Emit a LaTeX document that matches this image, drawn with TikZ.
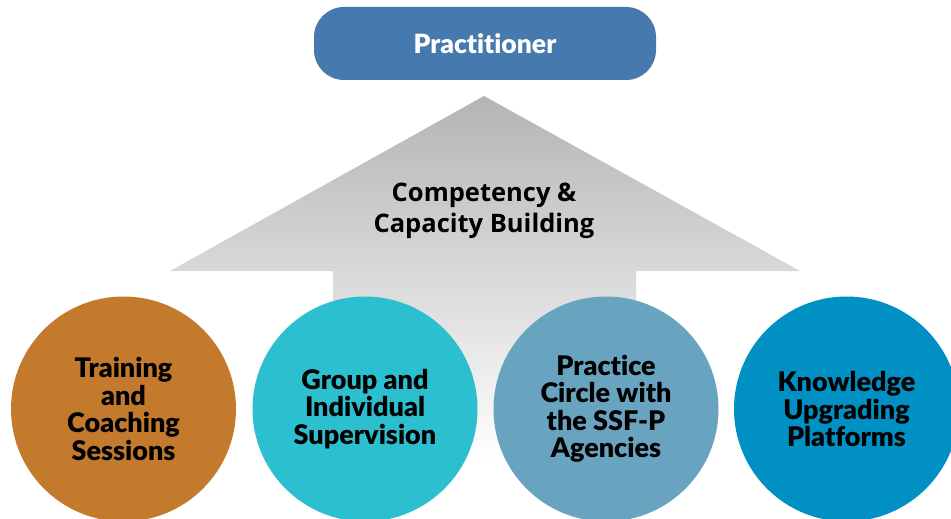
\documentclass[tikz,border=0pt]{standalone}
\usepackage{fontspec}
\setmainfont{Lato}[Ligatures=NoCommon]
\newfontfamily\heavyfont{Lato Black}[Ligatures=NoCommon]
\newfontfamily\labelfont{Open Sans}
\begin{document}
\begin{tikzpicture}[x=1pt,y=-1pt,
  topbox/.style={draw=none,fill={rgb,255:red,70;green,121;blue,174},rounded corners=30pt,minimum width=342pt,minimum height=73pt,font=\heavyfont\fontsize{26.5}{30}\selectfont,text=white},
  bubble/.style={circle,draw=none,minimum size=225pt,inner sep=0pt,align=center,font=\heavyfont\fontsize{27}{27.5}\selectfont,text=black},
  arrowlabel/.style={align=center,font=\labelfont\bfseries\fontsize{25.5}{31}\selectfont,text=black}]
\useasboundingbox (0,0) rectangle (951,519);
\fill[white] (0,0) rectangle (951,519);
\node[topbox] (prac) at (485,43.5) {Practitioner};
\shade[top color={rgb,255:red,180;green,180;blue,180},bottom color=white,middle color={rgb,255:red,218;green,218;blue,218}]
  (484,96) -- (800,271) -- (636,271) -- (636,462) -- (333,462) -- (333,271) -- (170,271) -- cycle;
\node[arrowlabel] (cap) at (484,211) {Competency \&\\Capacity Building};
\node[bubble,fill={rgb,255:red,196;green,122;blue,44}] (b1) at (123.5,409) {Training\\and\\Coaching\\Sessions};
\node[bubble,fill={rgb,255:red,43;green,191;blue,207}] (b2) at (365,409) {Group and\\Individual\\Supervision};
\node[bubble,fill={rgb,255:red,104;green,164;blue,191}] (b3) at (606,409) {Practice\\Circle with\\the SSF-P\\Agencies};
\node[bubble,fill={rgb,255:red,0;green,144;blue,196}] (b4) at (846.5,409) {Knowledge\\Upgrading\\Platforms};
\end{tikzpicture}
\end{document}
